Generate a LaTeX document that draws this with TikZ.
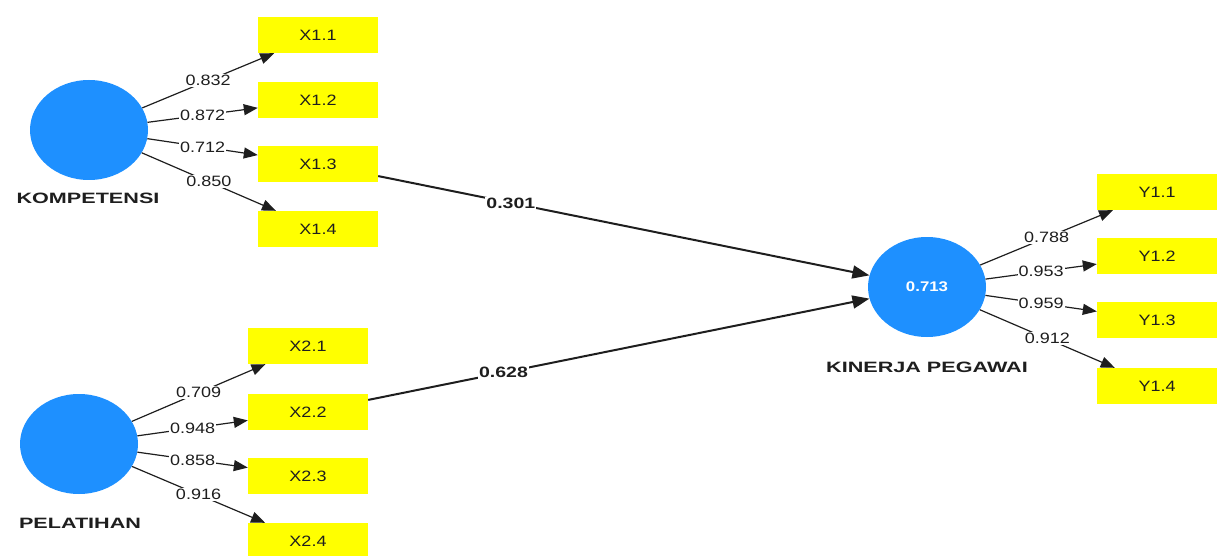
\documentclass[tikz,border=0pt]{standalone}
\usepackage{fontspec}
\setmainfont{Liberation Sans}
\newfontfamily\plsfont[FakeStretch=1.2]{Liberation Sans}
\newfontfamily\plscoef[FakeStretch=1.3]{Liberation Sans}
\newfontfamily\plswide[FakeStretch=1.44]{Liberation Sans}
\usetikzlibrary{shapes.geometric,arrows.meta}
\definecolor{plsblue}{RGB}{30,144,255}
\definecolor{plsyellow}{RGB}{255,255,0}
\definecolor{plsink}{RGB}{30,30,30}

\begin{document}
\begin{tikzpicture}[x=1pt,y=-1pt]
\tikzset{
  latent/.style={ellipse, fill=plsblue, minimum width=118pt, minimum height=100pt, inner sep=0pt},
  indicator/.style={rectangle, fill=plsyellow, minimum width=120pt, minimum height=36pt, inner sep=0pt, text=plsink, font=\plsfont\fontsize{15}{18}\selectfont},
  lvname/.style={text=plsink, inner sep=1pt, font=\plswide\bfseries\fontsize{15}{18}\selectfont},
  loading/.style={fill=white, inner sep=1pt, text=plsink, font=\plsfont\fontsize{15}{18}\selectfont},
  coef/.style={fill=white, inner sep=1pt, text=plsink, font=\plscoef\bfseries\fontsize{15}{18}\selectfont},
  outer/.style={-{Triangle[length=14pt,width=11pt]}, line width=1.2pt, draw=plsink},
  inner/.style={-{Triangle[length=17pt,width=13pt]}, line width=2pt, draw=plsink}
}
\useasboundingbox (0,0) rectangle (1223,556);

\node[latent] (kom) at (89,130) {};
\node[latent] (pel) at (79,444) {};
\node[latent, text=white, font=\plsfont\bfseries\fontsize{14}{17}\selectfont] (kin) at (927,287) {0.713};

\node[lvname] (komname) at (88,198) {KOMPETENSI};
\node[lvname] (pelname) at (80,523) {PELATIHAN};
\node[lvname] (kinname) at (927,367) {KINERJA PEGAWAI};

\node[indicator] (x11) at (318,35) {X1.1};
\node[indicator] (x12) at (318,100) {X1.2};
\node[indicator] (x13) at (318,164) {X1.3};
\node[indicator] (x14) at (318,229) {X1.4};

\node[indicator] (x21) at (308,346) {X2.1};
\node[indicator] (x22) at (308,412) {X2.2};
\node[indicator] (x23) at (308,476) {X2.3};
\node[indicator] (x24) at (308,541) {X2.4};

\node[indicator] (y11) at (1157,192) {Y1.1};
\node[indicator] (y12) at (1157,256) {Y1.2};
\node[indicator] (y13) at (1157,320) {Y1.3};
\node[indicator] (y14) at (1157,386) {Y1.4};

\draw[outer] (kom) -- node[loading] (l11) {0.832} (x11);
\draw[outer] (kom) -- node[loading] (l12) {0.872} (x12);
\draw[outer] (kom) -- node[loading] (l13) {0.712} (x13);
\draw[outer] (kom) -- node[loading] (l14) {0.850} (x14);

\draw[outer] (pel) -- node[loading] (l21) {0.709} (x21);
\draw[outer] (pel) -- node[loading] (l22) {0.948} (x22);
\draw[outer] (pel) -- node[loading] (l23) {0.858} (x23);
\draw[outer] (pel) -- node[loading] (l24) {0.916} (x24);

\draw[outer] (kin) -- node[loading] (m11) {0.788} (y11);
\draw[outer] (kin) -- node[loading] (m12) {0.953} (y12);
\draw[outer] (kin) -- node[loading] (m13) {0.959} (y13);
\draw[outer] (kin) -- node[loading] (m14) {0.912} (y14);

\draw[inner] (x13) -- node[coef, pos=0.27] (b1) {0.301} (kin);
\draw[inner] (x22) -- node[coef, pos=0.27] (b2) {0.628} (kin);
\end{tikzpicture}
\end{document}
